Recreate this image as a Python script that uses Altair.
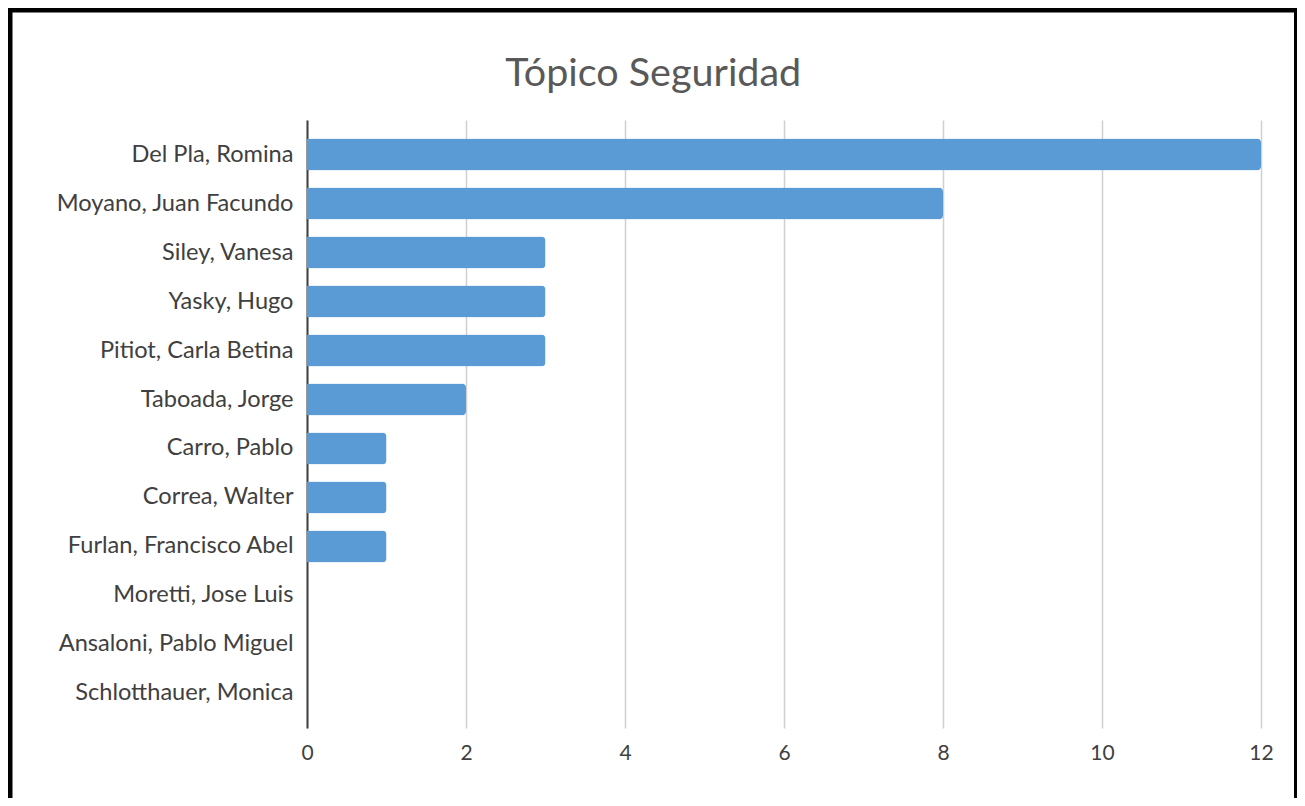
import altair as alt
import pandas as pd

names = [
    "Del Pla, Romina",
    "Moyano, Juan Facundo",
    "Siley, Vanesa",
    "Yasky, Hugo",
    "Pitiot, Carla Betina",
    "Taboada, Jorge",
    "Carro, Pablo",
    "Correa, Walter",
    "Furlan, Francisco Abel",
    "Moretti, Jose Luis",
    "Ansaloni, Pablo Miguel",
    "Schlotthauer, Monica",
]
values = [12, 8, 3, 3, 3, 2, 1, 1, 1, 0, 0, 0]
x_ticks = [0, 2, 4, 6, 8, 10, 12]

df = pd.DataFrame({"name": names, "value": values})

PW, PH = 954, 608
PAD_L, PAD_T, PAD_R, PAD_B = 299, 112, 36, 70
FONT = "Lato"

bars = alt.Chart(df).mark_bar(color="#5B9BD5", cornerRadiusEnd=4).encode(
    y=alt.Y(
        "name:N",
        sort=names,
        title=None,
        scale=alt.Scale(paddingInner=0.35, paddingOuter=0.38),
        axis=alt.Axis(
            labelFont=FONT,
            labelFontSize=23.6,
            labelColor="#404040",
            labelPadding=14,
            labelLimit=0,
            ticks=False,
            domain=True,
            domainColor="#404040",
            domainWidth=2,
            grid=False,
        ),
    ),
    x=alt.X(
        "value:Q",
        title=None,
        scale=alt.Scale(domain=[0, 12], nice=False),
        axis=alt.Axis(
            values=x_ticks,
            labelFont=FONT,
            labelFontSize=21,
            labelColor="#404040",
            labelPadding=14,
            labelFlush=False,
            ticks=False,
            domain=False,
            grid=True,
            gridColor="#D0D0D0",
            gridWidth=1.5,
        ),
    ),
)

frame = alt.Chart(pd.DataFrame({"k": [0]})).mark_rect(
    filled=False, stroke="black", strokeWidth=8
).encode(
    x=alt.value(-PAD_L + 0.5),
    x2=alt.value(PW + PAD_R + 1),
    y=alt.value(-PAD_T + 0.5),
    y2=alt.value(PH + PAD_B + 40),
)

chart = alt.layer(bars, frame).properties(
    width=PW,
    height=PH,
    autosize=alt.AutoSizeParams(type="none"),
    padding={"left": PAD_L, "top": PAD_T, "right": PAD_R, "bottom": PAD_B},
    title=alt.TitleParams(
        "Tópico Seguridad",
        font=FONT,
        fontSize=39.5,
        fontWeight="normal",
        color="#595959",
        anchor="middle",
        frame="bounds",
        baseline="alphabetic",
        offset=0,
        dy=121,
    ),
).configure(background="white", view=alt.ViewConfig(stroke=None))

chart.save("out.html", embed_options={"renderer": "svg", "actions": False})
